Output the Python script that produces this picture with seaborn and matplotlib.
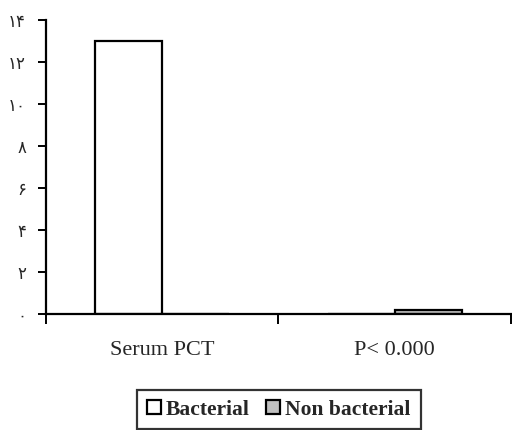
import matplotlib
matplotlib.use("Agg")
import matplotlib.pyplot as plt
import seaborn as sns
import pandas as pd
from matplotlib.patches import Patch

categories = ["Serum PCT", "P< 0.000"]
bacterial = [13.0, 0.0]
non_bacterial = [0.0, 0.18]
series_names = ["Bacterial", "Non bacterial"]
ytick_values = [0, 2, 4, 6, 8, 10, 12, 14]
ytick_labels = ["۰", "۲", "۴", "۶", "۸", "۱۰", "۱۲", "۱۴"]

colors = {"Bacterial": "#ffffff", "Non bacterial": "#c0c0c0"}

df = pd.DataFrame({
    "category": categories * 2,
    "value": bacterial + non_bacterial,
    "group": [series_names[0]] * len(categories) + [series_names[1]] * len(categories),
})

sns.set_style("white")
fig = plt.figure(figsize=(5.12, 4.30), dpi=100)
ax = fig.add_axes([45.5 / 512, 1 - 313.5 / 430, (511 - 45.5) / 512, (313.5 - 20) / 430])

sns.barplot(data=df, x="category", y="value", hue="group", order=categories,
            hue_order=series_names, palette=colors, width=0.575, gap=0,
            edgecolor="black", linewidth=1.6, ax=ax, legend=False, errorbar=None)

ax.set_xlim(-0.5, 1.5)
ax.set_ylim(0, 14)
for s in ["top", "right"]:
    ax.spines[s].set_visible(False)
for s in ["left", "bottom"]:
    ax.spines[s].set_color("black")
    ax.spines[s].set_linewidth(1.6)

ax.set_yticks(ytick_values)
ax.set_yticklabels(ytick_labels, family=["DejaVu Sans"], fontsize=12)
ax.tick_params(axis="y", direction="out", length=6, width=1.4, color="black", pad=8, left=True)

ax.set_xticks(range(len(categories)))
ax.set_xticklabels(categories, family=["Liberation Serif"], fontsize=16)
ax.tick_params(axis="x", which="major", length=0, pad=20)
ax.set_xticks([-0.5, 0.5, 1.5], minor=True)
ax.tick_params(axis="x", which="minor", direction="out", length=7, width=1.4, color="black", bottom=True)

ax.set_xlabel("")
ax.set_ylabel("")

handles = [Patch(facecolor=colors[n], edgecolor="black", linewidth=1.6, label=n) for n in series_names]
leg = fig.legend(handles=handles, loc="upper left", bbox_to_anchor=(137 / 512, 1 - 390 / 430),
                 ncol=2, frameon=True, fancybox=False, edgecolor="black",
                 prop={"family": "Liberation Serif", "weight": "bold", "size": 15.5},
                 handlelength=0.65, handleheight=0.65, handletextpad=0.25, columnspacing=0.75,
                 borderpad=0.45, borderaxespad=0)
leg.get_frame().set_linewidth(1.6)

fig.savefig("out.png", dpi=100)
